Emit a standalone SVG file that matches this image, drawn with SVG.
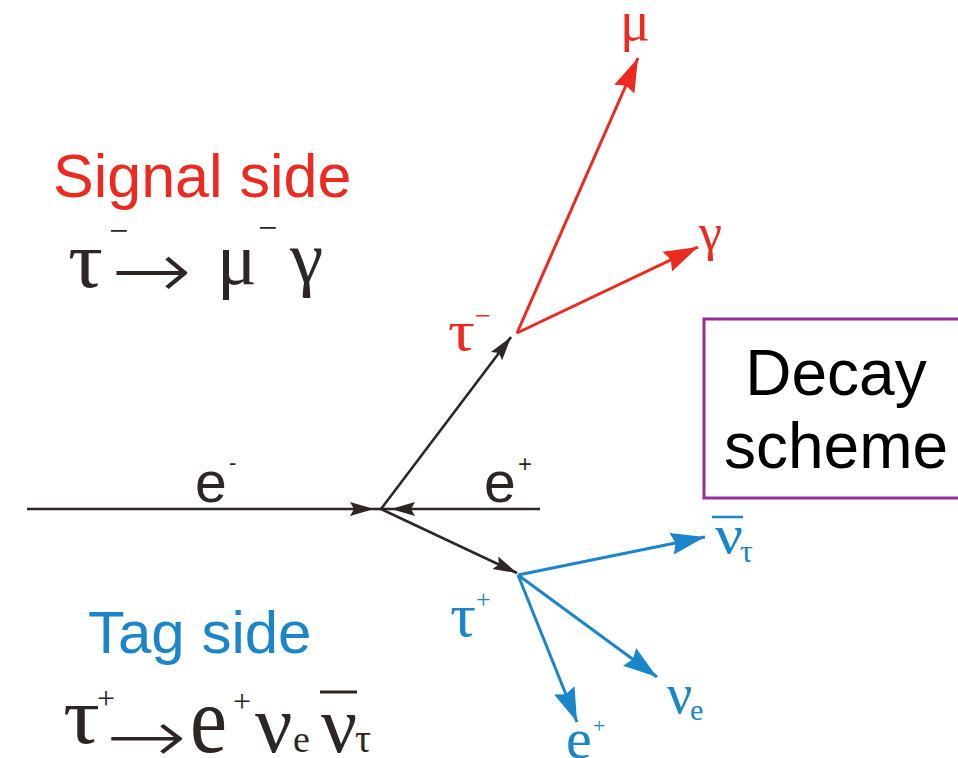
<svg xmlns="http://www.w3.org/2000/svg" width="958" height="758" viewBox="0 0 958 758">
<style>
.sans{font-family:"Liberation Sans",Arial,sans-serif}
.serif{font-family:"Liberation Serif","Times New Roman",serif}
.arr{font-family:"DejaVu Sans",sans-serif;font-weight:200}
.k{fill:#2e2624}
.r{fill:#ec2a1f}
.b{fill:#1a86c9}
.lk{stroke:#2e2624;stroke-width:2.6;fill:none}
.lr{stroke:#ec2a1f;stroke-width:3;fill:none}
.lb{stroke:#1a86c9;stroke-width:3;fill:none}
</style>
<defs>
<marker id="ak" markerUnits="userSpaceOnUse" markerWidth="26" markerHeight="16" refX="24" refY="8" orient="auto"><path d="M0,1 L24,8 L0,15 L4,8 Z" fill="#2e2624"/></marker>
<marker id="ar" markerUnits="userSpaceOnUse" markerWidth="36" markerHeight="24" refX="34" refY="12" orient="auto"><path d="M0,1 L34,12 L0,23 L4,12 Z" fill="#ec2a1f"/></marker>
<marker id="ab" markerUnits="userSpaceOnUse" markerWidth="36" markerHeight="24" refX="34" refY="12" orient="auto"><path d="M0,1 L34,12 L0,23 L4,12 Z" fill="#1a86c9"/></marker>
</defs>
<rect width="958" height="758" fill="#ffffff"/>

<g id="signal-title">
<text class="sans r" x="53" y="197" font-size="61">Signal side</text>
</g>
<g id="signal-formula" class="serif k">
<text x="68" y="287" font-size="80" textLength="35" lengthAdjust="spacingAndGlyphs">τ</text>
<text x="109" y="242" font-size="34">−</text>
<text class="arr" x="111" y="298" font-size="80" textLength="81" lengthAdjust="spacingAndGlyphs">→</text>
<text x="217" y="284" font-size="74">μ</text>
<text x="258" y="239" font-size="34">−</text>
<text x="290" y="282" font-size="75">γ</text>
</g>

<g id="tag-title">
<text class="sans b" x="88" y="653" font-size="60">Tag side</text>
</g>
<g id="tag-formula" class="serif k">
<text x="63" y="743" font-size="80" textLength="37" lengthAdjust="spacingAndGlyphs">τ</text>
<text x="97" y="709" font-size="32">+</text>
<text class="arr" x="106" y="762" font-size="74" textLength="81" lengthAdjust="spacingAndGlyphs">→</text>
<text x="190" y="752" font-size="96" textLength="37" lengthAdjust="spacingAndGlyphs">e</text>
<text x="233" y="712" font-size="32">+</text>
<text x="255" y="752" font-size="83">ν</text>
<text x="293" y="752" font-size="38">e</text>
<text x="321" y="752" font-size="80">ν</text>
<line x1="320" y1="692" x2="357" y2="692" stroke="#2e2624" stroke-width="3"/>
<text x="355" y="752" font-size="40">τ</text>
</g>

<g id="decay-box">
<rect x="704" y="319" width="270" height="179" fill="#ffffff" stroke="#9b2d9b" stroke-width="3"/>
<text class="sans" x="836" y="395" font-size="64" text-anchor="middle" fill="#000">Decay</text>
<text class="sans" x="836" y="468" font-size="64" text-anchor="middle" fill="#000">scheme</text>
</g>

<g id="e-minus">
<text class="sans k" x="195" y="502" font-size="57">e</text>
<text class="sans k" x="229" y="470" font-size="22">-</text>
</g>
<g id="e-plus">
<text class="sans k" x="484" y="502" font-size="57">e</text>
<text class="sans k" x="518" y="472" font-size="24">+</text>
</g>
<g id="tau-minus">
<text class="serif r" x="448" y="350" font-size="57" textLength="27" lengthAdjust="spacingAndGlyphs">τ</text>
<text class="serif r" x="475" y="325" font-size="28">−</text>
</g>
<g id="tau-plus">
<text class="serif b" x="450" y="636" font-size="62" textLength="26" lengthAdjust="spacingAndGlyphs">τ</text>
<text class="serif b" x="476" y="608" font-size="26">+</text>
</g>
<g id="mu">
<text class="serif r" x="620" y="40" font-size="58" textLength="30" lengthAdjust="spacingAndGlyphs">μ</text>
</g>
<g id="gamma">
<text class="serif r" x="699" y="250" font-size="52">γ</text>
</g>
<g id="nubar-tau">
<text class="serif b" x="715" y="553" font-size="54" textLength="28" lengthAdjust="spacingAndGlyphs">ν</text>
<line x1="712" y1="517" x2="743" y2="517" stroke="#1a86c9" stroke-width="2.5"/>
<text class="serif b" x="740" y="562" font-size="32">τ</text>
</g>
<g id="nu-e">
<text class="serif b" x="667" y="713" font-size="56">ν</text>
<text class="serif b" x="690" y="720" font-size="30">e</text>
</g>
<g id="e-plus-out">
<text class="serif b" x="566" y="758" font-size="58">e</text>
<text class="serif b" x="593" y="733" font-size="22">+</text>
</g>

<g id="connectors">
<line class="lk" x1="27" y1="509" x2="374" y2="509" marker-end="url(#ak)"/>
<line class="lk" x1="374" y1="509" x2="381" y2="509"/>
<line class="lk" x1="540" y1="509" x2="391" y2="509" marker-end="url(#ak)"/>
<line class="lk" x1="391" y1="509" x2="381" y2="509"/>
<line class="lk" x1="381" y1="509" x2="511" y2="337" marker-end="url(#ak)"/>
<line class="lk" x1="381" y1="509" x2="517" y2="573" marker-end="url(#ak)"/>
<line class="lr" x1="517" y1="333" x2="638" y2="58" marker-end="url(#ar)"/>
<line class="lr" x1="517" y1="333" x2="698" y2="247" marker-end="url(#ar)"/>
<line class="lb" x1="518" y1="575" x2="705" y2="537" marker-end="url(#ab)"/>
<line class="lb" x1="518" y1="575" x2="657" y2="677" marker-end="url(#ab)"/>
<line class="lb" x1="518" y1="575" x2="577" y2="722" marker-end="url(#ab)"/>
</g>
</svg>
